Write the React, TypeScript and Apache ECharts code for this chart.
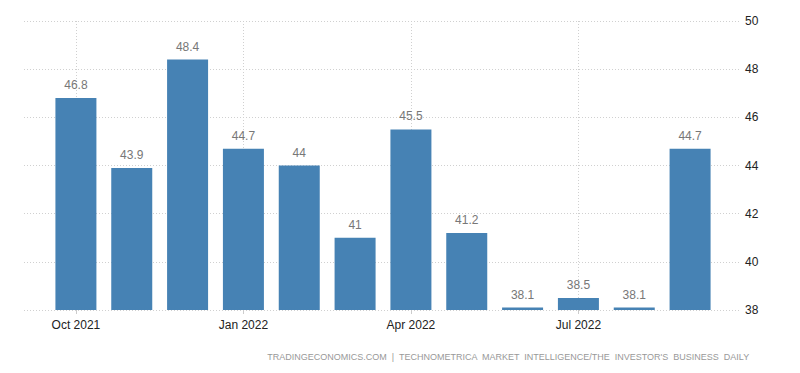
import React, { useEffect, useRef } from "react";
import * as echarts from "echarts";

const categories = [
  "Oct 2021", "Nov 2021", "Dec 2021", "Jan 2022", "Feb 2022", "Mar 2022",
  "Apr 2022", "May 2022", "Jun 2022", "Jul 2022", "Aug 2022", "Sep 2022",
];
const values = [46.8, 43.9, 48.4, 44.7, 44, 41, 45.5, 41.2, 38.1, 38.5, 38.1, 44.7];
const yTicks = { min: 38, max: 50, interval: 2 };
const sourceText =
  "TRADINGECONOMICS.COM  |  TECHNOMETRICA  MARKET  INTELLIGENCE/THE  INVESTOR'S  BUSINESS  DAILY";

const FONT = "'Liberation Sans', Arial, sans-serif";

export default function App() {
  const ref = useRef<HTMLDivElement>(null);
  useEffect(() => {
    document.body.style.margin = "0";
    if (!ref.current) return;
    const chart = echarts.init(ref.current, null, { renderer: "svg" });
    chart.setOption({
      animation: false,
      backgroundColor: "#ffffff",
      grid: [
        { left: 24, right: 60, top: 21, bottom: 63 },
        { left: 48, right: 82, top: 21, bottom: 63 },
      ],
      xAxis: [
        {
          gridIndex: 0,
          type: "category",
          data: categories,
          show: false,
        },
        {
          gridIndex: 1,
          type: "category",
          data: categories,
          axisLine: { show: false },
          axisTick: {
            show: true,
            alignWithLabel: true,
            interval: 2,
            length: 4,
            lineStyle: { color: "#cccccc" },
          },
          axisLabel: {
            interval: 2,
            color: "#222222",
            fontFamily: FONT,
            fontSize: 12,
            margin: 9,
          },
          splitLine: {
            show: true,
            interval: 2,
            alignWithLabel: true,
            lineStyle: { color: "#d0d0d0", type: [1, 2], width: 1 },
          },
        },
      ],
      yAxis: [
        {
          gridIndex: 0,
          type: "value",
          position: "right",
          min: yTicks.min,
          max: yTicks.max,
          interval: yTicks.interval,
          axisLine: { show: false },
          axisTick: { show: false },
          axisLabel: {
            color: "#222222",
            fontFamily: FONT,
            fontSize: 12,
            margin: 5,
          },
          splitLine: {
            show: true,
            lineStyle: { color: "#d0d0d0", type: [1, 2], width: 1 },
          },
        },
        {
          gridIndex: 1,
          type: "value",
          min: yTicks.min,
          max: yTicks.max,
          interval: yTicks.interval,
          show: false,
          splitLine: { show: false },
        },
      ],
      series: [
        {
          type: "bar",
          xAxisIndex: 1,
          yAxisIndex: 1,
          data: values,
          barWidth: 41,
          z: 3,
          itemStyle: { color: "#4682b4" },
          label: {
            show: true,
            position: "top",
            distance: 7,
            color: "#777777",
            fontFamily: FONT,
            fontSize: 12,
          },
        },
      ],
      graphic: [
        {
          type: "text",
          right: 50,
          top: 352,
          style: {
            text: sourceText,
            fill: "#999999",
            font: `9px ${FONT}`,
          },
        },
      ],
    });
    return () => chart.dispose();
  }, []);
  return <div ref={ref} style={{ width: 800, height: 373 }} />;
}
